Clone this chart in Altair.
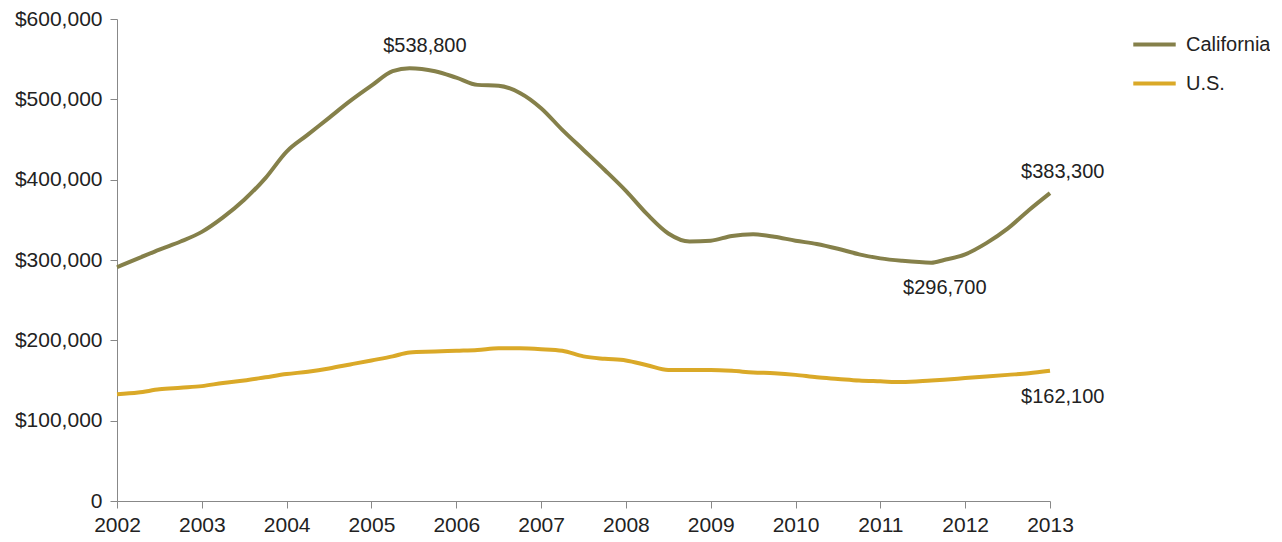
import altair as alt
import pandas as pd

years = [2002.0, 2002.25, 2002.5, 2002.75, 2003.0, 2003.25, 2003.5, 2003.75,
         2004.0, 2004.25, 2004.5, 2004.75, 2005.0, 2005.25, 2005.45, 2005.75,
         2006.0, 2006.25, 2006.5, 2006.75, 2007.0, 2007.25, 2007.5, 2007.75,
         2008.0, 2008.25, 2008.5, 2008.75, 2009.0, 2009.25, 2009.5, 2009.75,
         2010.0, 2010.25, 2010.5, 2010.75, 2011.0, 2011.25, 2011.6, 2011.75,
         2012.0, 2012.25, 2012.5, 2012.75, 2013.0]

california = [291000, 302000, 313000, 323000, 335000, 353000, 375000, 402000,
              435000, 456000, 477000, 498000, 517000, 535000, 538800, 535000,
              527000, 518000, 517000, 508000, 489000, 462000, 437000, 412000,
              386000, 357000, 333000, 323000, 324000, 330000, 332000, 329000,
              324000, 320000, 314000, 307000, 302000, 299000, 296700, 300000,
              307000, 321000, 339000, 362000, 383300]

us = [133000, 135000, 139000, 141000, 143000, 147000, 150000, 154000,
      158000, 161000, 165000, 170000, 175000, 180000, 185000, 186000,
      187000, 188000, 190000, 190000, 189000, 187000, 180000, 177000,
      175000, 169000, 163000, 163000, 163000, 162000, 160000, 159000,
      157000, 154000, 152000, 150000, 149000, 148000, 150000, 151000,
      153000, 155000, 157000, 159000, 162100]

series_names = ["California", "U.S."]
series_colors = ["#85804A", "#DAA928"]

ann_labels = ["$538,800", "$383,300", "$296,700", "$162,100"]
ann_x = [2005.63, 2013.15, 2011.76, 2013.15]
ann_y = [567000, 410000, 265000, 129500]

year_ticks = list(range(2002, 2014))
value_ticks = [0, 100000, 200000, 300000, 400000, 500000, 600000]

rows = []
for yr, c, u in zip(years, california, us):
    rows.append({"year": yr, "value": c, "series": "California"})
    rows.append({"year": yr, "value": u, "series": "U.S."})
df = pd.DataFrame(rows)

ann = pd.DataFrame({"label": ann_labels, "year": ann_x, "value": ann_y})

FONT = "Liberation Sans"
FS = 21

x = alt.X("year:Q", scale=alt.Scale(domain=[2002, 2013], nice=False, zero=False),
          axis=alt.Axis(values=year_ticks, format="d", title=None, grid=False,
                        domainColor="#888888", tickColor="#888888", tickSize=7,
                        labelFontSize=FS, labelColor="#222222", labelFont=FONT,
                        labelPadding=6, labelFlush=False))
y = alt.Y("value:Q", scale=alt.Scale(domain=[0, 600000], nice=False),
          axis=alt.Axis(values=value_ticks, title=None, grid=False,
                        labelExpr="datum.value == 0 ? '0' : '$' + format(datum.value, ',')",
                        domainColor="#888888", tickColor="#888888", tickSize=7,
                        labelFontSize=FS, labelColor="#222222", labelFont=FONT,
                        labelPadding=8))

lines = alt.Chart(df).mark_line(strokeWidth=4, interpolate="monotone").encode(
    x=x, y=y,
    color=alt.Color("series:N",
                    scale=alt.Scale(domain=series_names, range=series_colors),
                    legend=alt.Legend(title=None, orient="none", legendX=1014, legendY=2,
                                      symbolType="stroke", symbolSize=1800,
                                      symbolStrokeWidth=4, labelFontSize=FS - 1,
                                      labelFont=FONT, labelColor="#222222",
                                      labelOffset=8, rowPadding=5)),
)

text = alt.Chart(ann).mark_text(fontSize=FS - 1, font=FONT, color="#222222",
                                align="center", baseline="middle").encode(
    x="year:Q", y="value:Q", text="label:N"
)

chart = alt.layer(lines, text).properties(
    width=933, height=482,
    autosize=alt.AutoSizeParams(type="none"),
    padding={"left": 109, "top": 11, "right": 220, "bottom": 33},
).configure_view(stroke=None)

chart.save("out.html", embed_options={"renderer": "svg", "actions": False})
